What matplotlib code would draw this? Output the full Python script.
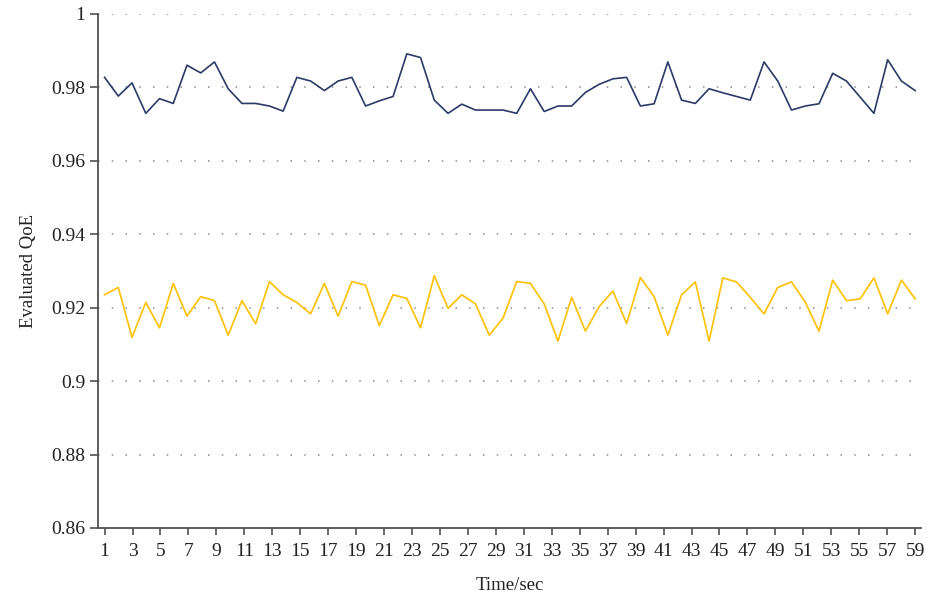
import numpy as np
import matplotlib.pyplot as plt

# Evaluated QoE (60 samples)
qoe_dark = [0.9827, 0.9776, 0.9812, 0.9729, 0.9769, 0.9756, 0.9860, 0.9839, 0.9869, 0.9796,
            0.9756, 0.9756, 0.9749, 0.9735, 0.9827, 0.9817, 0.9791, 0.9817, 0.9827, 0.9749,
            0.9763, 0.9775, 0.9891, 0.9881, 0.9765, 0.9729, 0.9754, 0.9738, 0.9738, 0.9738,
            0.9729, 0.9796, 0.9734, 0.9749, 0.9749, 0.9786, 0.9808, 0.9823, 0.9827, 0.9749,
            0.9755, 0.9869, 0.9765, 0.9756, 0.9796, 0.9785, 0.9775, 0.9765, 0.9869, 0.9817,
            0.9738, 0.9749, 0.9755, 0.9838, 0.9817, 0.9773, 0.9729, 0.9875, 0.9817, 0.9791]
qoe_gold = [0.9235, 0.9255, 0.9119, 0.9214, 0.9145, 0.9266, 0.9177, 0.9230, 0.9219, 0.9125,
            0.9219, 0.9156, 0.9271, 0.9235, 0.9214, 0.9183, 0.9266, 0.9177, 0.9271, 0.9261,
            0.9151, 0.9235, 0.9225, 0.9145, 0.9287, 0.9198, 0.9235, 0.9210, 0.9125, 0.9171,
            0.9271, 0.9266, 0.9210, 0.9109, 0.9228, 0.9136, 0.9203, 0.9245, 0.9157, 0.9282,
            0.9230, 0.9125, 0.9235, 0.9270, 0.9109, 0.9281, 0.9270, 0.9228, 0.9183, 0.9255,
            0.9270, 0.9215, 0.9136, 0.9275, 0.9219, 0.9224, 0.9281, 0.9183, 0.9275, 0.9224]
xticks = list(range(1, 60, 2))
yticks = [0.86, 0.88, 0.9, 0.92, 0.94, 0.96, 0.98, 1]
ytick_labels = ["0.86", "0.88", "0.9", "0.92", "0.94", "0.96", "0.98", "1"]

plt.rcParams['font.family'] = ['Liberation Serif', 'DejaVu Serif']

fig = plt.figure(figsize=(9.27, 6.01), dpi=100)
ax = fig.add_axes([0.106, 0.1215, 0.888, 0.8555])

# the samples are spread evenly between the first and last tick
t = np.linspace(1, 59, len(qoe_dark))
ax.plot(t, qoe_dark, color="#2b3a67", lw=1.2)
ax.plot(t, qoe_gold, color="#ffc000", lw=1.2)

ax.set_xlim(0.55, 59.45)
ax.set_ylim(0.86, 1.0)
ax.set_xticks(xticks)
ax.set_yticks(yticks)
ax.set_yticklabels(ytick_labels)

for y in yticks[1:]:
    ax.axhline(y, color="#8c8c8c", lw=1.1, ls=(0, (1, 8)), zorder=0)

for s in ["top", "right"]:
    ax.spines[s].set_visible(False)
for s in ["left", "bottom"]:
    ax.spines[s].set_color("#505050")
    ax.spines[s].set_linewidth(1.3)

ax.tick_params(axis="both", colors="#505050", labelcolor="#222222",
               labelsize=14, width=1.2, direction="out")
ax.tick_params(axis="y", length=6)
ax.tick_params(axis="x", length=5, pad=6)

ax.set_xlabel("Time/sec", fontsize=13.5, color="#222222", labelpad=12)
ax.set_ylabel("Evaluated QoE", fontsize=13.5, color="#222222", labelpad=10)

plt.savefig("out.png", dpi=100)
